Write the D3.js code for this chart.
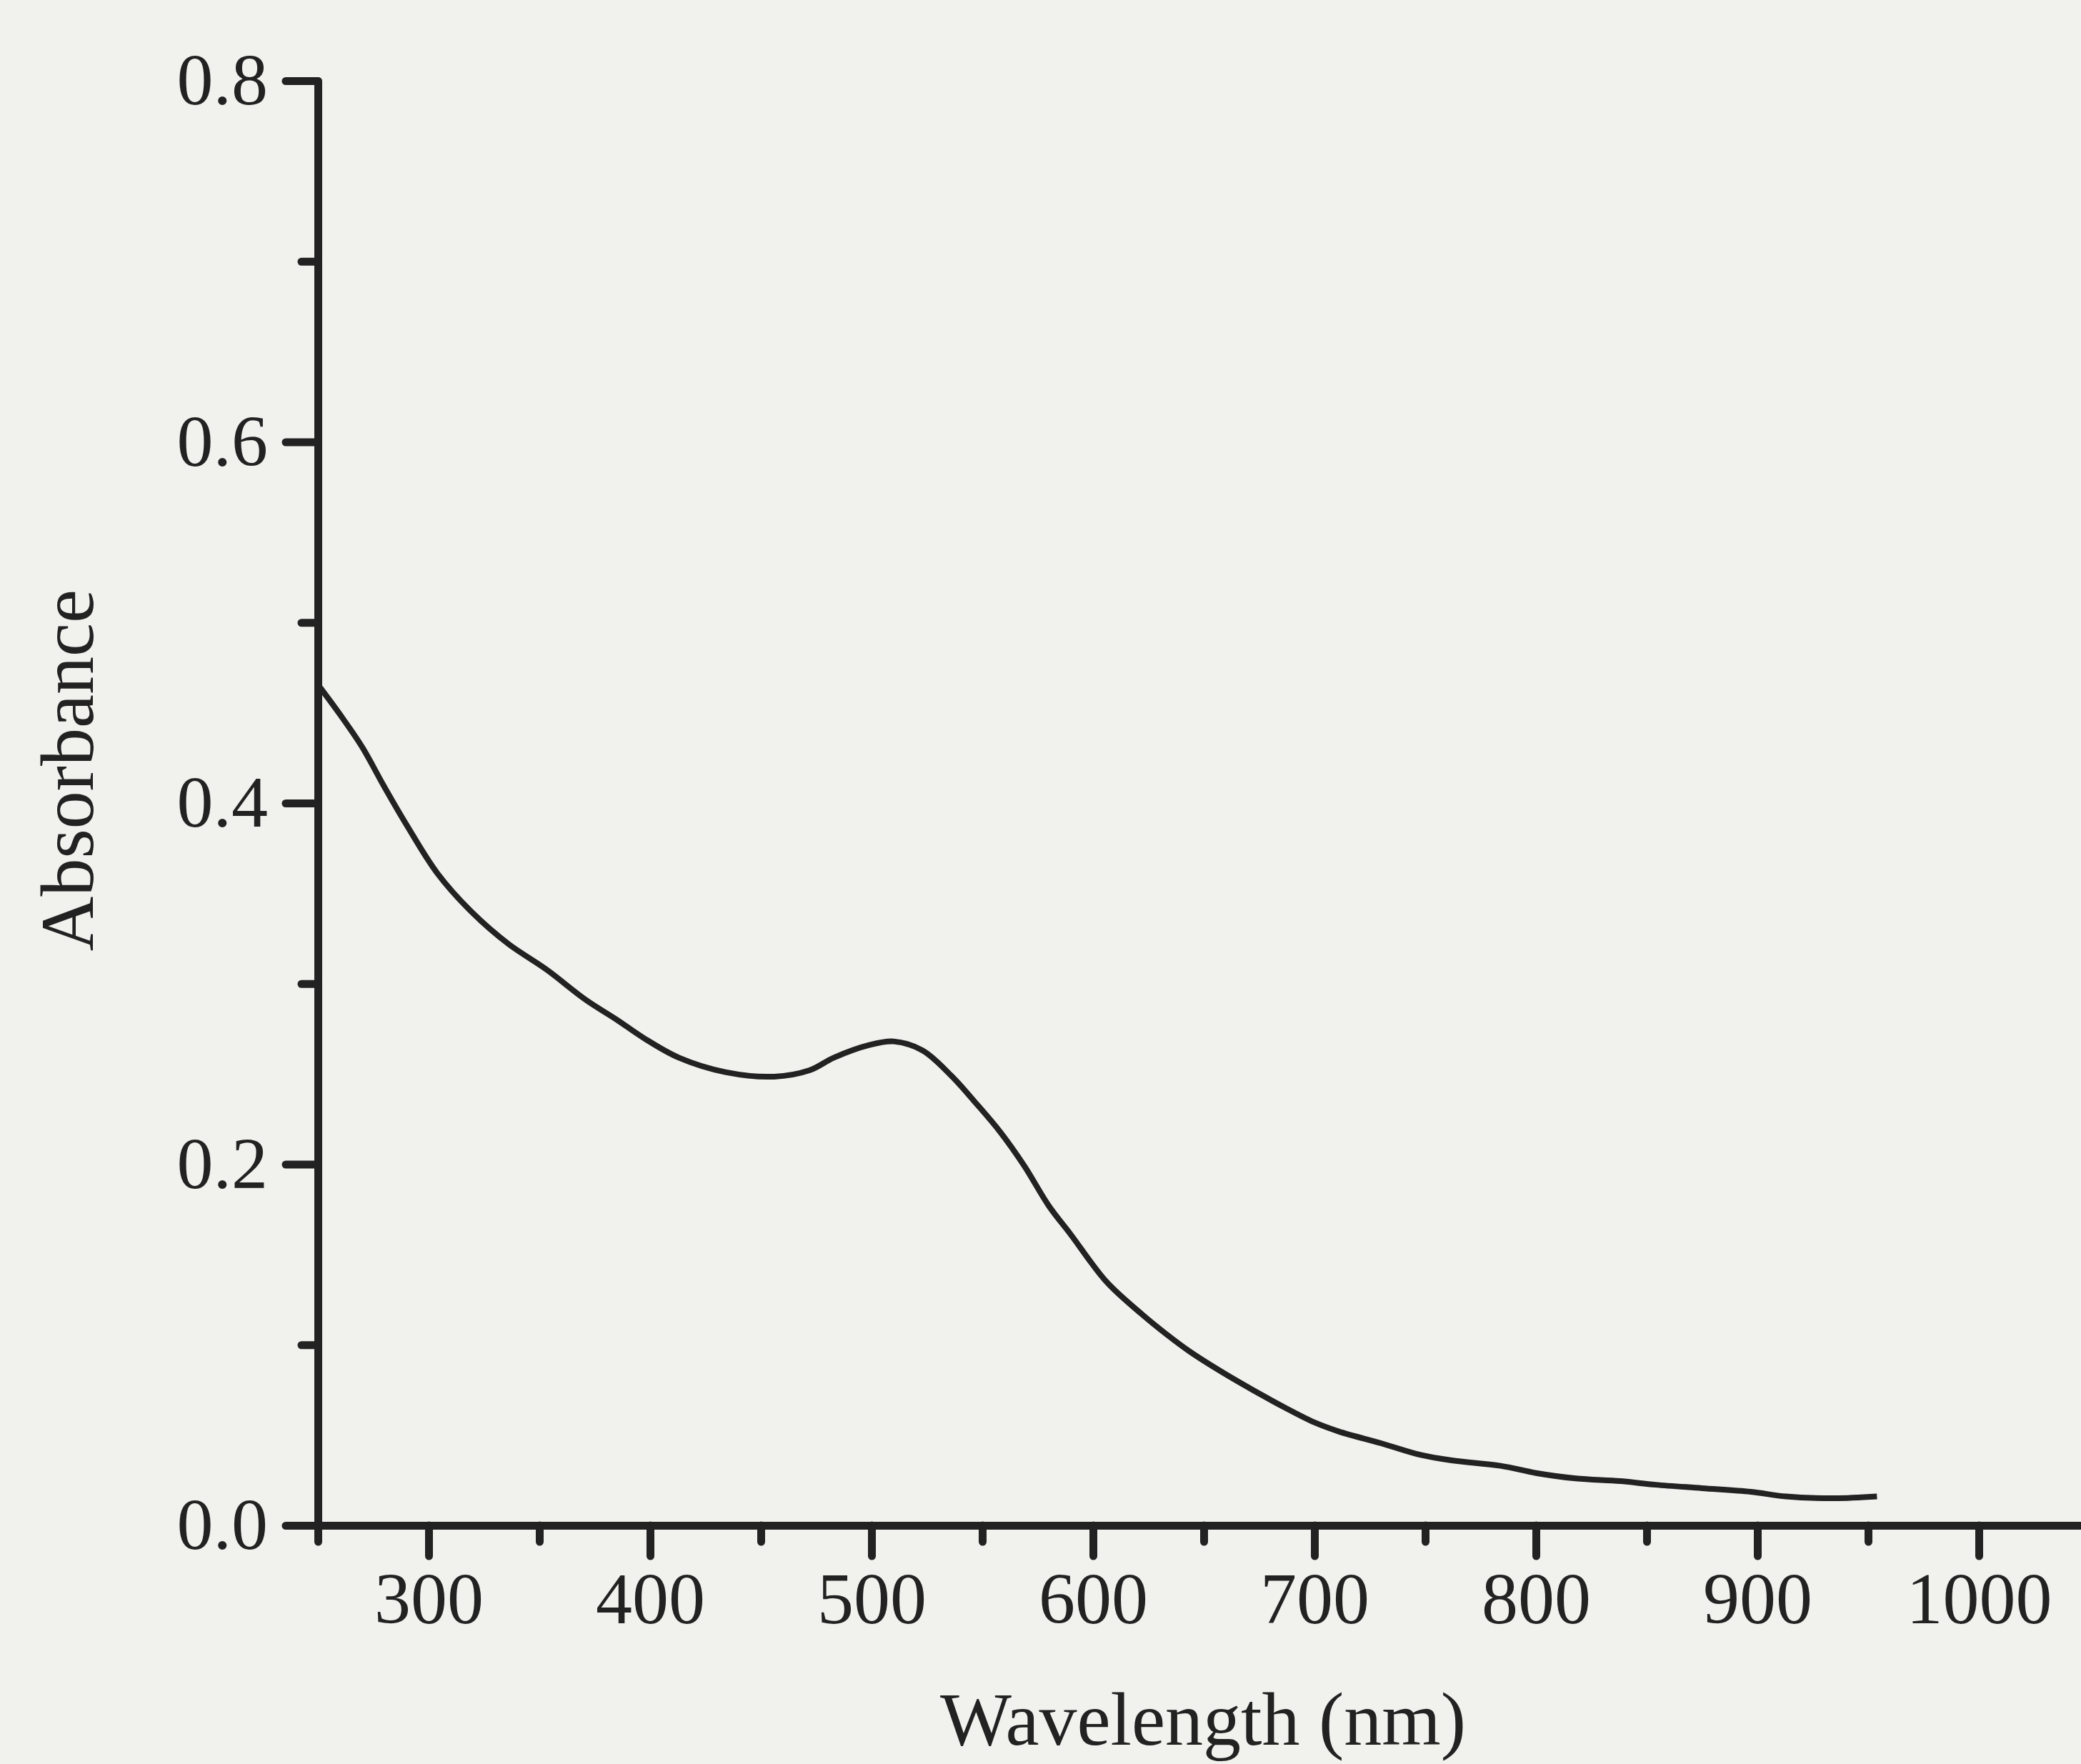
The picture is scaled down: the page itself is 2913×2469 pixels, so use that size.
<!DOCTYPE html>
<html lang="en">
<head>
    <meta charset="UTF-8">
    <title>Absorbance spectrum</title>
    <script src="https://d3js.org/d3.v7.min.js"></script>
    <style>
        html, body { margin: 0; padding: 0; background: #f1f2ee; overflow: hidden; }
        svg { display: block; }
        text { font-family: "Liberation Serif", "Times New Roman", serif; fill: #222; }
    </style>
</head>
<body>
    <div id="chart"></div>

    <script>
        const width = 2913;
        const height = 2469;

        // spectrum
        const wavelength = [251, 260, 270, 280, 290, 304, 320, 336, 353, 371, 385, 397, 413, 434, 456, 472, 483, 499, 510, 523, 536, 547, 558, 569, 580, 590, 606, 622, 633, 644, 665, 687, 700, 711, 730, 748, 762, 784, 800, 818, 838, 854, 875, 897, 913, 935, 954];
        const absorbance = [0.464, 0.449, 0.431, 0.409, 0.388, 0.361, 0.339, 0.322, 0.308, 0.291, 0.280, 0.270, 0.259, 0.251, 0.2485, 0.252, 0.259, 0.266, 0.268, 0.263, 0.249, 0.234, 0.218, 0.199, 0.177, 0.161, 0.135, 0.117, 0.106, 0.096, 0.080, 0.065, 0.057, 0.052, 0.0455, 0.039, 0.036, 0.033, 0.029, 0.026, 0.0245, 0.0225, 0.0206, 0.0186, 0.016, 0.015, 0.016];

        const xMajor = [300, 400, 500, 600, 700, 800, 900, 1000];
        const xMinor = [250, 350, 450, 550, 650, 750, 850, 950, 1050];
        const yMajor = [0, 0.2, 0.4, 0.6, 0.8];
        const yMinor = [0.1, 0.3, 0.5, 0.7];

        const svg = d3.select("#chart")
            .append("svg")
            .attr("width", width)
            .attr("height", height);

        const x = d3.scaleLinear().domain([250, 1050]).range([445, 2925]);
        const y = d3.scaleLinear().domain([0, 0.8]).range([2135, 113]);

        const ink = "#222";

        function styleAxis(g) {
            g.selectAll("path, line")
                .attr("stroke", ink)
                .attr("stroke-width", 11)
                .attr("stroke-linecap", "round");
            g.selectAll("text")
                .style("font-size", "102px")
                .attr("fill", ink);
        }

        // minor ticks first, then major with labels
        svg.append("g")
            .attr("transform", `translate(0,${y(0)})`)
            .call(d3.axisBottom(x).tickValues(xMinor).tickSize(23).tickSizeOuter(0).tickFormat(""))
            .call(styleAxis);
        svg.append("g")
            .attr("transform", `translate(0,${y(0)})`)
            .call(d3.axisBottom(x).tickValues(xMajor).tickSize(43).tickSizeOuter(0).tickPadding(22).tickFormat(d3.format("d")))
            .call(styleAxis)
            .call(g => g.select(".domain").remove());

        svg.append("g")
            .attr("transform", `translate(${x(250)},0)`)
            .call(d3.axisLeft(y).tickValues(yMinor).tickSize(23).tickSizeOuter(0).tickFormat(""))
            .call(styleAxis);
        svg.append("g")
            .attr("transform", `translate(${x(250)},0)`)
            .call(d3.axisLeft(y).tickValues(yMajor).tickSize(45).tickSizeOuter(0).tickPadding(25).tickFormat(d3.format(".1f")))
            .call(styleAxis)
            .call(g => g.select(".domain").remove());

        // spectrum
        const line = d3.line()
            .x((d, i) => x(wavelength[i]))
            .y(d => y(d))
            .curve(d3.curveCatmullRom.alpha(0.5));

        svg.append("path")
            .datum(absorbance)
            .attr("d", line)
            .attr("fill", "none")
            .attr("stroke", ink)
            .attr("stroke-width", 8)
            .attr("stroke-linejoin", "round");

        // axis titles
        svg.append("text")
            .attr("x", 1684)
            .attr("y", 2442)
            .attr("text-anchor", "middle")
            .style("font-size", "106px")
            .text("Wavelength (nm)");

        svg.append("text")
            .attr("transform", "translate(130,1078) rotate(-90)")
            .attr("text-anchor", "middle")
            .style("font-size", "106px")
            .text("Absorbance");
    </script>
</body>
</html>
